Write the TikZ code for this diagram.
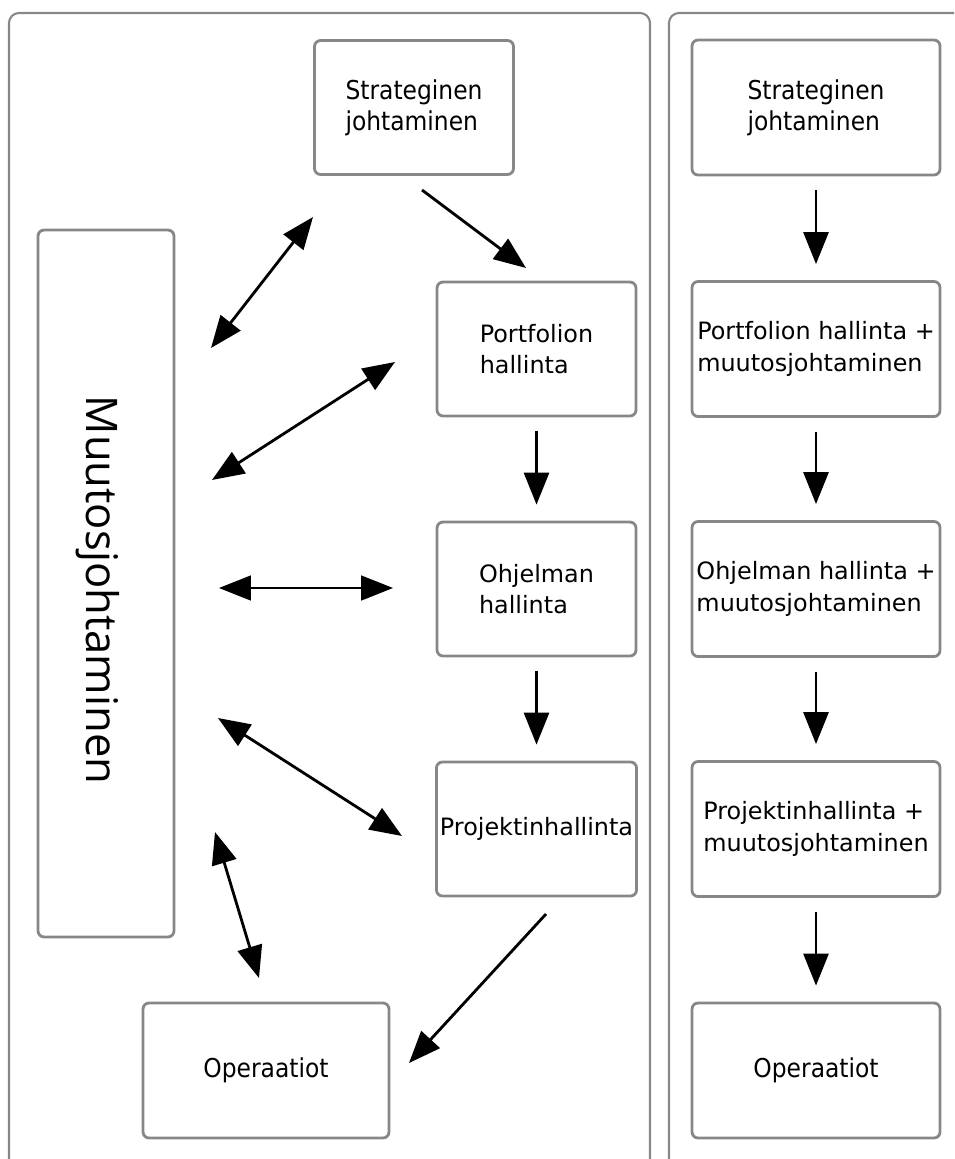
\documentclass[tikz,border=0pt]{standalone}
\usepackage{fontspec}
\setmainfont{DejaVu Sans}
\newfontfamily\kapea{DejaVu Sans Condensed}
\newfontfamily\muutosfont{Open Sans}
\usetikzlibrary{arrows.meta}
\definecolor{reuna}{RGB}{135,135,135}

\begin{document}
\begin{tikzpicture}[x=0.02cm, y=-0.02cm,
    >={Triangle[length=0.64cm, width=0.5cm]},
    laatikko/.style={draw=reuna, line width=1.6pt, rounded corners=0.12cm, align=left, inner sep=2pt,
        font=\fontsize{13.6}{17.8}\selectfont},
    vasen/.style={laatikko, minimum width=3.98cm, minimum height=2.68cm},
    oikea/.style={laatikko, minimum width=4.96cm, minimum height=2.7cm},
    kapeateksti/.style={font=\kapea\fontsize{14.8}{17.8}\selectfont},
    paneeli/.style={draw=reuna, line width=1.2pt, rounded corners=0.2cm},
    nuoli/.style={line width=1.6pt, ->},
    kaksi/.style={line width=1.6pt, <->},
    alas/.style={nuoli, shorten <=0.28cm, shorten >=0.32cm}]
                \useasboundingbox (0,0) rectangle (954,1159);
                \clip (0,0) rectangle (954,1159);
                \draw[paneeli] (9,13) rectangle (650,1200);
                \draw[paneeli] (669,13) rectangle (1000,1200);

                \node[laatikko, minimum width=2.72cm, minimum height=14.14cm] (m) at (106,583.5) {};
                \node[rotate=-90, inner sep=0pt, font=\muutosfont\fontsize{24.8}{28}\selectfont] (mt) at (98,590) {Muutosjohtaminen};

                \node[vasen, kapeateksti] (s1) at (414,107.5) {Strateginen\\johtaminen};
                \node[vasen] (p1) at (536.5,349) {Portfolion\\hallinta};
                \node[vasen] (o1) at (536.5,589) {Ohjelman\\hallinta};
                \node[vasen] (r1) at (536.5,829) {Projektinhallinta};
                \node[laatikko, kapeateksti, minimum width=4.92cm, minimum height=2.7cm] (op1) at (266,1070.5) {Operaatiot};

                \node[oikea, kapeateksti] (s2) at (816,107.5) {Strateginen\\johtaminen};
                \node[oikea] (p2) at (816,349) {Portfolion hallinta +\\muutosjohtaminen};
                \node[oikea] (o2) at (816,589) {Ohjelman hallinta +\\muutosjohtaminen};
                \node[oikea] (r2) at (816,829) {Projektinhallinta +\\muutosjohtaminen};
                \node[oikea, kapeateksti] (op2) at (816,1070.5) {Operaatiot};

                \coordinate (sa) at (422,190);  \coordinate (pa) at (526,268);
                \coordinate (ra) at (546,914);  \coordinate (opa) at (409,1063);
                \coordinate (m1) at (211,348);  \coordinate (s1b) at (313,217);
                \coordinate (m2) at (212,480);  \coordinate (p1b) at (395,362);
                \coordinate (m3) at (219,588);  \coordinate (o1b) at (393,588);
                \coordinate (m4) at (218,718);  \coordinate (r1b) at (402,836);
                \coordinate (m5) at (215,832);  \coordinate (op1b) at (259,978);

                \draw[nuoli] (sa) -- (pa);
                \draw[alas] (p1) -- (o1);
                \draw[alas] (o1) -- (r1);
                \draw[nuoli] (ra) -- (opa);

                \draw[kaksi] (m1) -- (s1b);
                \draw[kaksi] (m2) -- (p1b);
                \draw[kaksi, line width=1pt] (m3) -- (o1b);
                \draw[kaksi] (m4) -- (r1b);
                \draw[kaksi] (m5) -- (op1b);

                \draw[alas] (s2) -- (p2);
                \draw[alas] (p2) -- (o2);
                \draw[alas] (o2) -- (r2);
                \draw[alas] (r2) -- (op2);
            \end{tikzpicture}
\end{document}
